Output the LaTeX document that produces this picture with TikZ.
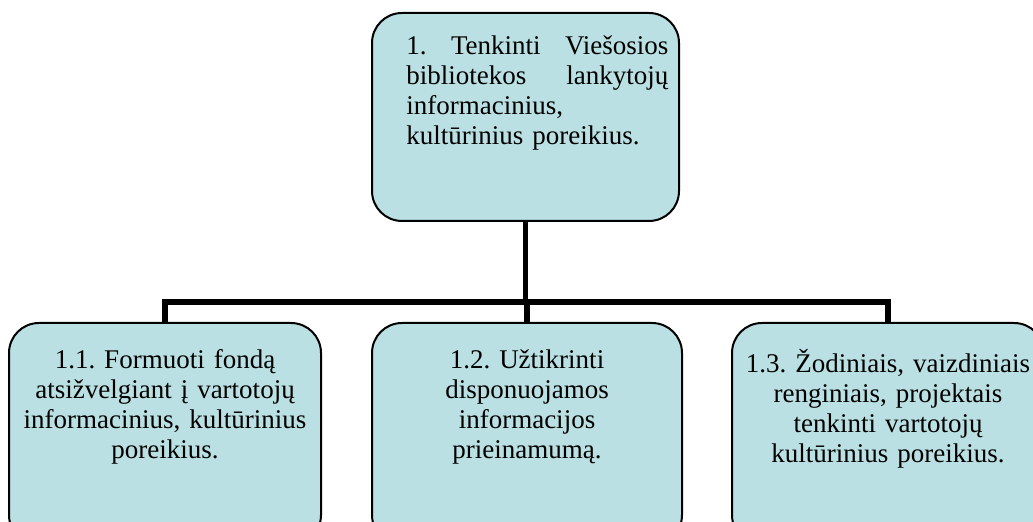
\documentclass[tikz,border=0pt]{standalone}
\usepackage{fontspec}
\setmainfont{Liberation Serif}
\newfontfamily\tnr{Liberation Serif}
\frenchspacing
\definecolor{boxfill}{RGB}{186,224,227}
\begin{document}
\begin{tikzpicture}[x=0.5pt,y=-0.5pt,
  box/.style={draw=black, line width=1pt, fill=boxfill, rounded corners=15pt, inner sep=0pt},
  txt/.style={inner sep=0pt, font=\tnr\fontsize{13.5pt}{15pt}\selectfont},
  conn/.style={line width=2.6pt}]
\useasboundingbox (0,0) rectangle (1033,522);
\clip (0,0) rectangle (1033,522);
\fill[white] (0,0) rectangle (1033,522);
% boxes
\node[box, minimum width=153.5pt, minimum height=104pt] (top) at (525.5,117) {};
\node[box, minimum width=156pt, minimum height=111pt] (b1) at (165,434) {};
\node[box, minimum width=155pt, minimum height=111pt] (b2) at (527,434) {};
\node[box, minimum width=156pt, minimum height=111pt] (b3) at (888,434) {};
% connectors
\coordinate (bus) at (526,302);
\draw[conn] (top.south) -- (top.south |- bus);
\draw[conn] (b2.north) -- (b2.north |- bus);
\draw[conn] (b1.north) |- (bus) -| (b3.north);
% texts
\node[txt, anchor=north west, text width=131pt, align=left] (ttop) at (406,35)
 {1.\hfill Tenkinti\hfill Viešosios\\ bibliotekos\hfill lankytojų\\ informacinius,\\ kultūrinius poreikius.};
\node[txt, anchor=north, text width=152pt, align=center] (t1) at (165,349)
 {1.1. Formuoti fondą\\ atsižvelgiant į vartotojų\\ informacinius, kultūrinius\\ poreikius.};
\node[txt, anchor=north, text width=152pt, align=center] (t2) at (527,349)
 {1.2. Užtikrinti\\ disponuojamos\\ informacijos\\ prieinamumą.};
\node[txt, anchor=north, text width=152pt, align=center] (t3) at (888,349)
 {1.3. Žodiniais, vaizdiniais\\ renginiais, projektais\\ tenkinti vartotojų\\ kultūrinius poreikius.};
\end{tikzpicture}
\end{document}
